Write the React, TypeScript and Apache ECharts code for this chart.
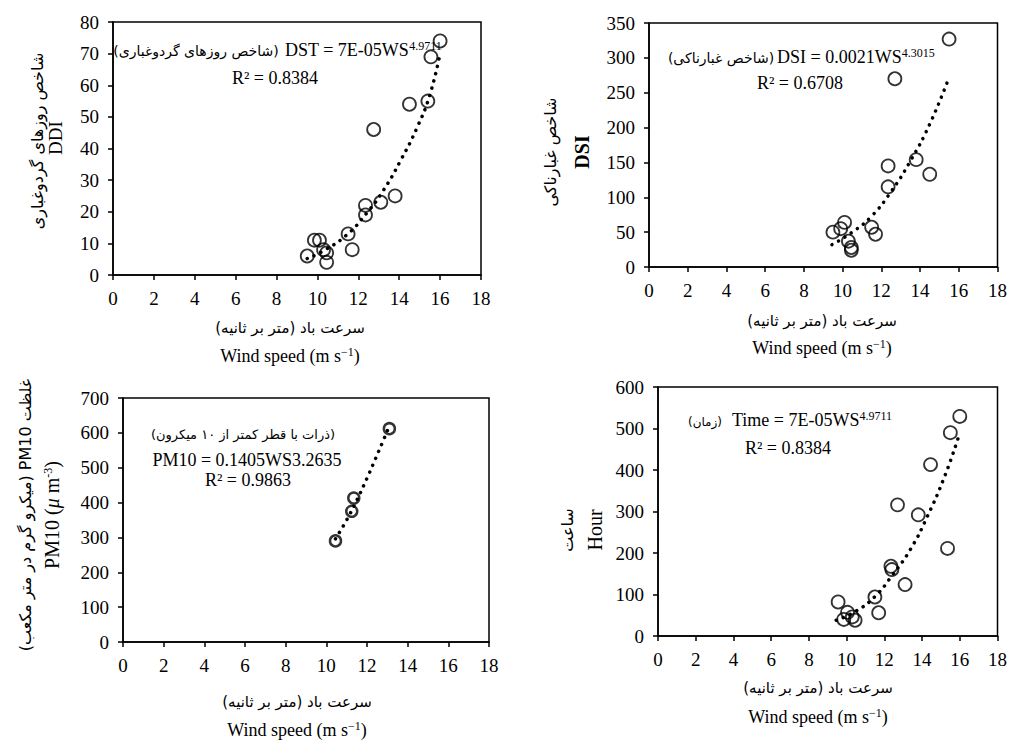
import React, { useEffect, useRef } from "react";
import * as echarts from "echarts";

// ---- Data ----
const windTicks = { min: 0, max: 18, interval: 2 };

// Panel 1: DDI (dust days index)
const ddiWind = [9.5, 9.85, 10.1, 10.3, 10.45, 10.45, 11.5, 11.7, 12.35, 12.35, 12.75, 13.1, 13.8, 14.5, 15.4, 15.55, 16.0];
const ddiValues = [6, 11, 11, 8, 7, 4, 13, 8, 22, 19, 46, 23, 25, 54, 55, 69, 74];
const ddiTrendWind = [9.5, 10.2, 11.4, 12.4, 13.2, 14.05, 14.9, 15.5, 16.0];
const ddiTrendValues = [5.2, 7.3, 12.5, 19.5, 26.5, 36, 47, 57, 70];

// Panel 2: DSI (dust storm index)
const dsiWind = [9.5, 9.9, 10.1, 10.3, 10.45, 10.45, 11.5, 11.7, 12.35, 12.35, 12.7, 13.8, 14.5, 15.5];
const dsiValues = [50, 55, 64, 37, 28, 24, 57, 47, 145, 115, 270, 154, 133, 327];
const dsiTrendWind = [9.45, 10.5, 11.5, 12.5, 13.5, 14.5, 15.5];
const dsiTrendValues = [32, 50, 73, 108, 152, 205, 272];

// Panel 3: PM10
const pmWind = [10.45, 11.25, 11.35, 13.1];
const pmValues = [290, 375, 413, 612];
const pmTrendWind = [10.45, 11.0, 11.5, 12.0, 12.5, 13.1];
const pmTrendValues = [296, 350, 407, 470, 537, 620];

// Panel 4: Hour
const hourWind = [9.55, 9.85, 10.05, 10.3, 10.45, 11.5, 11.7, 12.35, 12.4, 12.7, 13.1, 13.8, 14.45, 15.35, 15.5, 16.0];
const hourValues = [82, 40, 57, 46, 38, 94, 56, 168, 160, 316, 124, 292, 413, 211, 490, 529];
const hourTrendWind = [9.45, 10.5, 11.5, 12.4, 13.4, 14.3, 15.2, 15.9];
const hourTrendValues = [38, 60, 95, 145, 210, 290, 385, 475];

const yAxesSpec = [
  { min: 0, max: 80, interval: 10 },
  { min: 0, max: 350, interval: 50 },
  { min: 0, max: 700, interval: 100 },
  { min: 0, max: 600, interval: 100 },
];

const serif = "'Liberation Serif', 'Times New Roman', serif";
const fa = "'DejaVu Sans', 'Noto Sans', sans-serif";
const rtl = (s: string) => "\u202B" + s + "\u202C";

const zip = (xs: number[], ys: number[]) => xs.map((x, i) => [x, ys[i]]);

function txt(x: number, y: number, text: string, opts: any = {}) {
  return {
    type: "text",
    x,
    y,
    rotation: opts.rotation || 0,
    silent: true,
    style: {
      text,
      fontSize: opts.fontSize || 18,
      fontFamily: opts.fontFamily || serif,
      fontWeight: opts.fontWeight || "normal",
      fill: "#000",
      align: opts.align || "center",
      textAlign: opts.align || "center",
      verticalAlign: "middle",
      textVerticalAlign: "middle",
      rich: opts.rich,
    },
  };
}

const supRich = {
  m: { fontSize: 18, fontFamily: serif, fill: "#000", color: "#000", lineHeight: 20 },
  s: { fontSize: 12, fontFamily: serif, fill: "#000", color: "#000", verticalAlign: "top", lineHeight: 12 },
  i: { fontSize: 20, fontFamily: serif, fontStyle: "italic", fill: "#000", color: "#000", lineHeight: 20 },
};

function windTitle(cx: number, yFa: number, yEn: number) {
  return [
    txt(cx, yFa, rtl("سرعت باد (متر بر ثانیه)"), { fontFamily: fa, fontSize: 15 }),
    txt(cx, yEn, "{m|Wind speed (m s}{s|\u22121}{m|)}", { rich: supRich }),
  ];
}

export default function App() {
  const ref = useRef<HTMLDivElement>(null);
  useEffect(() => {
    if (!ref.current) return;
    const chart = echarts.init(ref.current, undefined, { renderer: "svg" });

    const grids = [
      { left: 113, top: 22, width: 368, height: 253 },
      { left: 649, top: 23, width: 352, height: 244 },
      { left: 123, top: 398, width: 366, height: 244 },
      { left: 658, top: 387, width: 342, height: 249 },
    ].map((g) => ({ ...g, show: true, borderColor: "#000", borderWidth: 1.5, containLabel: false }));

    const axisCommon = {
      type: "value",
      axisLine: { show: true, onZero: false, lineStyle: { color: "#000", width: 1.5 } },
      axisTick: { show: true, length: 5, lineStyle: { color: "#000", width: 1.5 } },
      splitLine: { show: false },
    };

    const xAxis = grids.map((_, i) => ({
      ...axisCommon,
      gridIndex: i,
      min: windTicks.min,
      max: windTicks.max,
      interval: windTicks.interval,
      axisLabel: { color: "#000", fontFamily: serif, fontSize: 19, margin: 14, showMaxLabel: true },
    }));
    const yAxis = grids.map((_, i) => ({
      ...axisCommon,
      gridIndex: i,
      min: yAxesSpec[i].min,
      max: yAxesSpec[i].max,
      interval: yAxesSpec[i].interval,
      axisLabel: { color: "#000", fontFamily: serif, fontSize: 19, margin: 14 },
    }));

    const scatterSets = [
      zip(ddiWind, ddiValues),
      zip(dsiWind, dsiValues),
      zip(pmWind, pmValues),
      zip(hourWind, hourValues),
    ];
    const trendSets = [
      zip(ddiTrendWind, ddiTrendValues),
      zip(dsiTrendWind, dsiTrendValues),
      zip(pmTrendWind, pmTrendValues),
      zip(hourTrendWind, hourTrendValues),
    ];

    const series: any[] = [];
    trendSets.forEach((d, i) => {
      series.push({
        type: "line",
        xAxisIndex: i,
        yAxisIndex: i,
        data: d,
        smooth: true,
        showSymbol: false,
        symbol: "none",
        lineStyle: { color: "#000", width: 3.5, type: [0.1, 7.4], cap: "round" },
        z: 3,
      });
    });
    scatterSets.forEach((d, i) => {
      series.push({
        type: "scatter",
        xAxisIndex: i,
        yAxisIndex: i,
        data: d,
        symbol: "circle",
        symbolSize: i === 2 ? 11 : 13,
        itemStyle: { color: "transparent", borderColor: "#000", borderWidth: i === 2 ? 2.5 : 1.8 },
        z: 4,
      });
    });

    const graphic: any[] = [
      // Panel 1
      txt(37, 141, rtl("شاخص روزهای گردوغباری"), { fontFamily: fa, fontSize: 16, rotation: Math.PI / 2 }),
      txt(55, 138, "DDI", { fontSize: 19, rotation: Math.PI / 2 }),
      txt(196, 51, rtl("(شاخص روزهای گردوغباری)"), { fontFamily: fa, fontSize: 14 }),
      txt(285, 50, "{m|DST = 7E-05WS}{s|4.9711}", { align: "left", rich: supRich }),
      txt(275, 78, "R² = 0.8384"),
      ...windTitle(290, 328, 356),
      // Panel 2
      txt(550, 152, rtl("شاخص غبارناکی"), { fontFamily: fa, fontSize: 16, rotation: Math.PI / 2 }),
      txt(582, 152, "DSI", { fontSize: 20, fontWeight: "bold", rotation: Math.PI / 2 }),
      txt(721, 58, rtl("(شاخص غبارناکی)"), { fontFamily: fa, fontSize: 14 }),
      txt(777, 57, "{m|DSI = 0.0021WS}{s|4.3015}", { align: "left", rich: supRich }),
      txt(800, 83, "R² = 0.6708"),
      ...windTitle(822, 321, 348),
      // Panel 3
      txt(25, 515, rtl("غلظت PM10 (میکرو گرم در متر مکعب)"), { fontFamily: fa, fontSize: 16, rotation: Math.PI / 2 }),
      txt(52, 515, "{m|PM10 (}{i|μ}{m| m}{s|-3}{m|)}", { rotation: Math.PI / 2, rich: { ...supRich, m: { ...supRich.m, fontSize: 20 } } }),
      txt(243, 434, rtl("(ذرات با قطر کمتر از ۱۰ میکرون)"), { fontFamily: fa, fontSize: 13 }),
      txt(247, 460, "PM10 = 0.1405WS3.2635"),
      txt(248, 480, "R² = 0.9863"),
      ...windTitle(297, 702, 730),
      // Panel 4
      txt(567, 530, rtl("ساعت"), { fontFamily: fa, fontSize: 16, rotation: Math.PI / 2 }),
      txt(595, 530, "Hour", { fontSize: 20, rotation: Math.PI / 2 }),
      txt(705, 422, rtl("(زمان)"), { fontFamily: fa, fontSize: 12 }),
      txt(732, 420, "{m|Time = 7E-05WS}{s|4.9711}", { align: "left", rich: supRich }),
      txt(788, 448, "R² = 0.8384"),
      ...windTitle(818, 688, 717),
    ];

    chart.setOption({
      animation: false,
      backgroundColor: "#fff",
      grid: grids,
      xAxis,
      yAxis,
      series,
      graphic,
    });
    return () => chart.dispose();
  }, []);

  return (
    <div
      ref={ref}
      style={{ position: "absolute", left: 0, top: 0, width: 1010, height: 740 }}
    />
  );
}
